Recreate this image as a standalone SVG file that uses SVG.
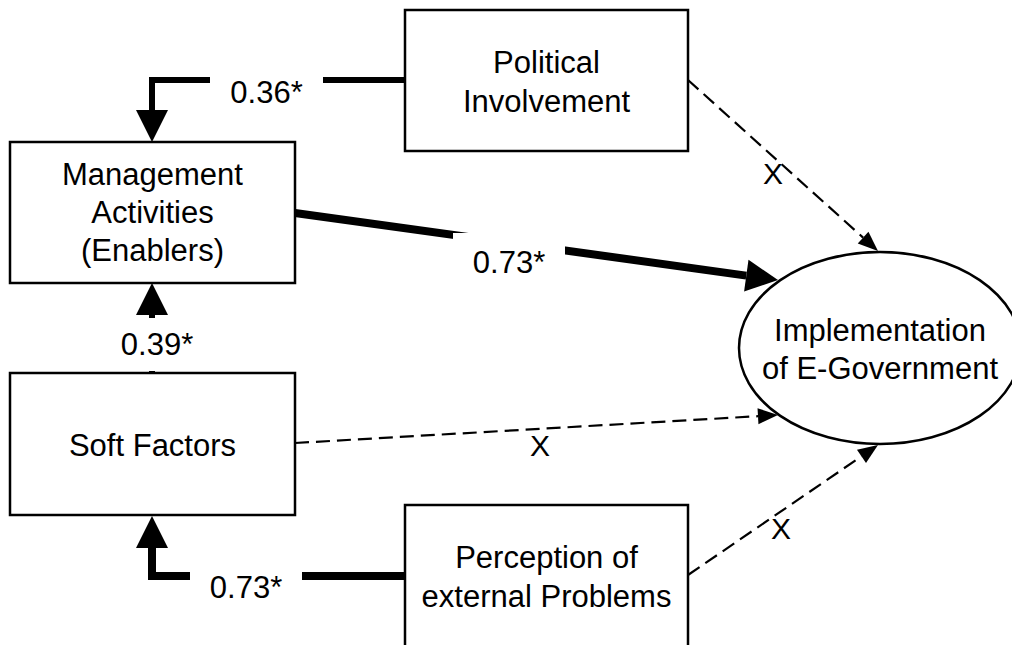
<svg xmlns="http://www.w3.org/2000/svg" width="1012" height="645" viewBox="0 0 1012 645">
<style>
.box{fill:#fff;stroke:#000;stroke-width:2.5}
.t{font-family:"Liberation Sans",Arial,sans-serif;font-size:31px;fill:#000;text-anchor:middle}
.x{font-family:"Liberation Sans",Arial,sans-serif;font-size:30px;fill:#000;text-anchor:middle}
.thick{fill:none;stroke:#000;stroke-linejoin:miter}
.dash{fill:none;stroke:#000;stroke-width:2.2;stroke-dasharray:14 7}
.bg{fill:#fff}
</style>
<defs>
<marker id="big" markerUnits="userSpaceOnUse" markerWidth="34" markerHeight="32" refX="0" refY="16" orient="auto" overflow="visible">
<path d="M0,0 L32,16 L0,32 z" fill="#000"/>
</marker>
<marker id="small" markerUnits="userSpaceOnUse" markerWidth="22" markerHeight="18" refX="0" refY="8" orient="auto" overflow="visible">
<path d="M0,0 L20,8 L0,16 z" fill="#000"/>
</marker>
</defs>
<rect width="1012" height="645" fill="#fff"/>
<g id="connectors">
<path class="thick" stroke-width="6" d="M404,80 H152 V110" marker-end="url(#big)"/>
<rect class="bg" x="210" y="68" width="113" height="42"/>
<text class="t" x="266.5" y="103">0.36*</text>

<path class="thick" stroke-width="8" d="M295,213 L746.3,275.6" marker-end="url(#big)"/>
<rect class="bg" x="453" y="233" width="112" height="46"/>
<text class="t" x="509" y="273">0.73*</text>

<path class="thick" stroke-width="6" d="M152,373 V315" marker-end="url(#big)"/>
<rect class="bg" x="110" y="318" width="92" height="53"/>
<text class="t" x="157" y="355">0.39*</text>

<path class="thick" stroke-width="8" d="M404,576 H152 V548" marker-end="url(#big)"/>
<rect class="bg" x="190" y="566" width="112" height="42"/>
<text class="t" x="246" y="598">0.73*</text>

<path class="dash" d="M688,80 L863.1,237.6" marker-end="url(#small)"/>
<text class="x" x="773" y="184">X</text>
<path class="dash" d="M295,443 L758,416.2" marker-end="url(#small)"/>
<text class="x" x="540" y="456">X</text>
<path class="dash" d="M688,575 L861.5,456.3" marker-end="url(#small)"/>
<text class="x" x="781" y="539">X</text>
</g>
<g id="political">
<rect class="box" x="405" y="10" width="283" height="141"/>
<text class="t" x="546.5" y="73">Political</text>
<text class="t" x="546.5" y="112">Involvement</text>
</g>
<g id="management">
<rect class="box" x="10" y="142" width="285" height="141"/>
<text class="t" x="152.5" y="185">Management</text>
<text class="t" x="152.5" y="223">Activities</text>
<text class="t" x="152.5" y="261">(Enablers)</text>
</g>
<g id="soft">
<rect class="box" x="10" y="373" width="285" height="142"/>
<text class="t" x="152.5" y="456">Soft Factors</text>
</g>
<g id="perception">
<rect class="box" x="405" y="505" width="283" height="142"/>
<text class="t" x="546.5" y="568">Perception of</text>
<text class="t" x="546.5" y="607">external Problems</text>
</g>
<g id="implementation">
<ellipse class="box" cx="880" cy="348" rx="141" ry="96"/>
<text class="t" x="880" y="341">Implementation</text>
<text class="t" x="880" y="379">of E-Government</text>
</g>
</svg>
